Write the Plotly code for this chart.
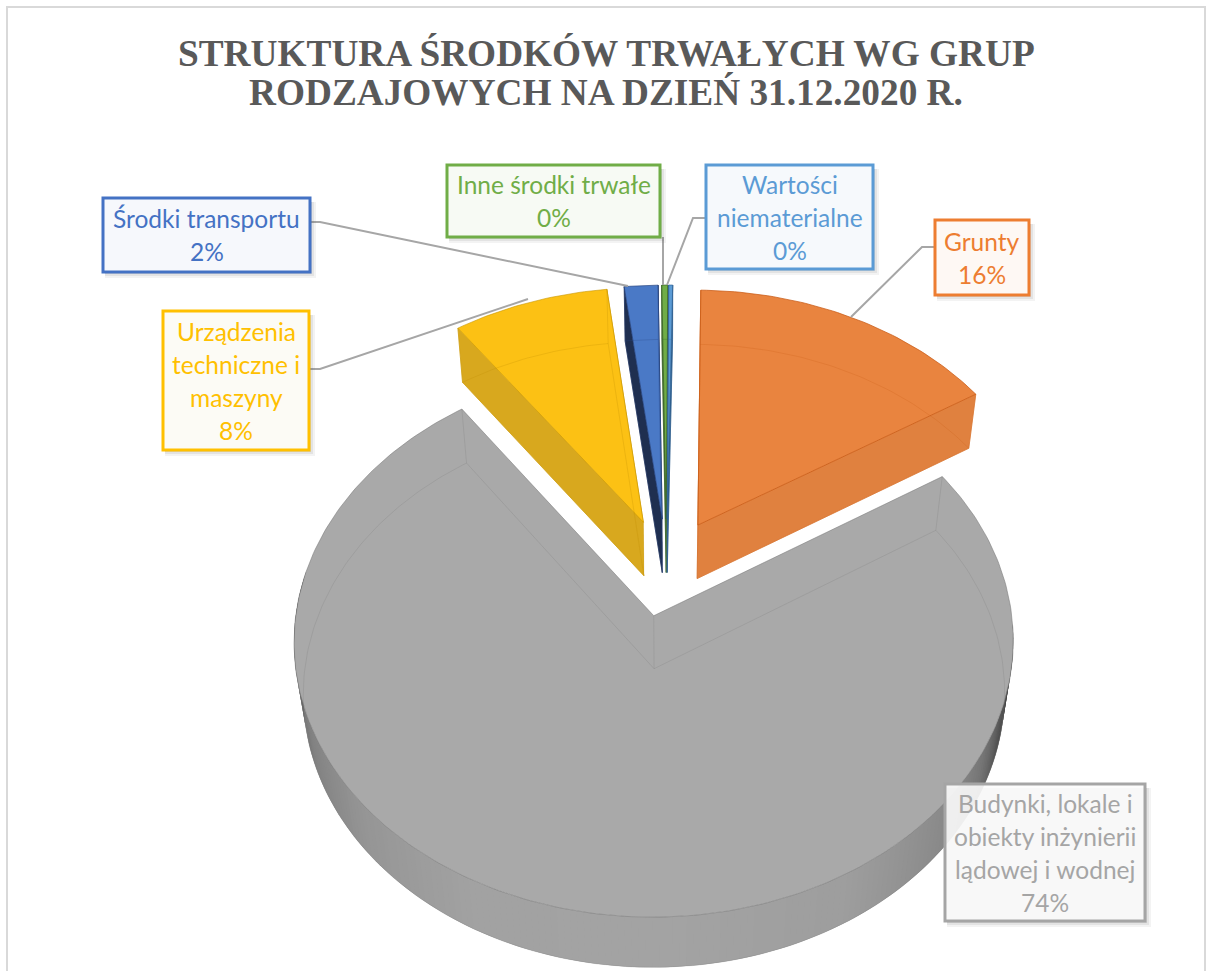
import numpy as np
import plotly.graph_objects as go

# ---- data ----
categories = ["Grunty", "Budynki, lokale i obiekty inżynierii lądowej i wodnej",
              "Urządzenia techniczne i maszyny", "Środki transportu",
              "Inne środki trwałe", "Wartości niematerialne"]
values = [15.7, 74.0, 7.9, 1.7, 0.3, 0.2]
title_lines = ["STRUKTURA ŚRODKÓW TRWAŁYCH WG GRUP", "RODZAJOWYCH NA DZIEŃ 31.12.2020 R."]
label_lines = [["Grunty"], ["Budynki, lokale i", "obiekty inżynierii", "lądowej i wodnej"],
               ["Urządzenia", "techniczne i", "maszyny"], ["Środki transportu"],
               ["Inne środki trwałe"], ["Wartości", "niematerialne"]]

# ---- style ----
top_colors = ["#E9843F", "#A9A9A9", "#FCC114", "#4A79C6", "#70AD47", "#5B9BD5"]
face_colors = ["#E0813F", "#A0A0A0", "#D8A81E", "#1F2F50", "#3E6A2A", "#2F5E8C"]
edge_colors = ["rgba(200,90,20,0.75)", "rgba(120,120,120,0.55)", "rgba(200,150,0,0.6)",
               "rgba(40,70,130,0.7)", "rgba(60,100,40,0.7)", "rgba(50,100,150,0.7)"]
ghost_colors = ["rgba(200,90,20,0.30)", "rgba(120,120,120,0.28)", "rgba(190,140,0,0.30)",
                "rgba(40,70,130,0.35)", "rgba(60,100,40,0.35)", "rgba(50,100,150,0.35)"]
text_colors = ["#ED7D31", "#A5A5A5", "#FFC000", "#4472C4", "#70AD47", "#5B9BD5"]
box_fills = ["#FEF8F4", "rgba(252,252,252,0.90)", "#FCFBF5", "#F6F8FC", "#F7FAF4", "#F6F9FC"]
boxes = [(935, 220, 1029, 295), (945, 784, 1145, 921), (163, 311, 309, 450),
         (103, 198, 310, 272), (447, 165, 660, 237), (706, 165, 873, 269)]
leaders = ["M 935 247 L 922 247 L 851 317", None,
           "M 309 369 L 320 369 L 528 299",
           "M 310 222 L 320 222 L 628 286",
           "M 663 237 L 663 285",
           "M 706 218 L 693 218 L 667 285"]

# ---- 3D pie projected to the page ----
CX, CY, S = 666.5, 567.0, 352.0
SE, CE = 0.75, 0.66
P, H, PULL = 0.14, 0.235, 0.185
START_ANGLE = 1.0
wall_angles = [95, 105, 118, 127, 150, 180, 208, 229, 248, 262, 272]
wall_grays = [50, 70, 118, 135, 158, 164, 162, 150, 130, 100, 70]

def proj(X, Y, Z):
    X, Y, Z = np.asarray(X, float), np.asarray(Y, float), np.asarray(Z, float)
    w = 1 + P * (Y * CE - Z * SE)
    return CX + S * X / w, CY - S * (Y * SE + Z * CE) / w

fig = go.Figure()

def poly(u, v, fill, line=None, lw=0.8):
    fig.add_trace(go.Scatter(x=list(u), y=list(v), mode="lines", fill="toself", fillcolor=fill,
                             line=dict(color=line or fill, width=lw), hoverinfo="skip"))

def path(u, v, color, lw=1.0):
    fig.add_trace(go.Scatter(x=list(u), y=list(v), mode="lines",
                             line=dict(color=color, width=lw), hoverinfo="skip"))

total = sum(values)
spans = START_ANGLE + np.cumsum([0] + values) / total * 360.0
slices = []
for i in range(len(values)):
    a0, a1 = spans[i], spans[i + 1]
    mid = np.radians((a0 + a1) / 2)
    ox, oy = PULL * np.sin(mid), PULL * np.cos(mid)
    th = np.radians(np.linspace(a0, a1, max(int((a1 - a0) / 1.0), 2) + 1))
    slices.append(dict(i=i, a0=a0, a1=a1, ox=ox, oy=oy, th=th,
                       ax=ox + np.sin(th), ay=oy + np.cos(th)))

# the big front slice first, then the rest from far to near
order = [1] + sorted([0, 2, 3, 4, 5], key=lambda k: -slices[k]["oy"])

for k in order:
    s = slices[k]
    ax, ay, ox, oy, th = s["ax"], s["ay"], s["ox"], s["oy"], s["th"]
    # outer wall, front facing part only; each strip overlaps the next to hide seams
    for j in range(len(th) - 1):
        deg = np.degrees((th[j] + th[j + 1]) / 2)
        if 92 < deg < 278:
            g = int(np.interp(deg, wall_angles, wall_grays))
            n = min(j + 2, len(th) - 1)
            u, v = proj([ax[j], ax[n], ax[n], ax[j]], [ay[j], ay[n], ay[n], ay[j]],
                        [0, 0, -H, -H])
            fig.add_trace(go.Scatter(x=list(u), y=list(v), mode="lines", fill="toself",
                                     fillcolor=f"rgb({g},{g},{g})", line=dict(width=0), hoverinfo="skip"))
    # radial cut faces
    if k != 1:
        for e in (0, -1):
            u, v = proj([ox, ax[e], ax[e], ox], [oy, ay[e], ay[e], oy], [0, 0, -H, -H])
            poly(u, v, face_colors[k])
    # top face
    u, v = proj(np.r_[ox, ax, ox], np.r_[oy, ay, oy], np.zeros(len(ax) + 2))
    poly(u, v, top_colors[k], edge_colors[k], 1.0)
    # edges seen through the translucent body
    u, v = proj(np.r_[ox, ax, ox], np.r_[oy, ay, oy], np.full(len(ax) + 2, -H))
    path(u, v, ghost_colors[k], 0.8)
    for e in (0, -1):
        u, v = proj([ax[e], ax[e]], [ay[e], ay[e]], [0, -H])
        path(u, v, ghost_colors[k], 0.8)
    u, v = proj([ox, ox], [oy, oy], [0, -H])
    path(u, v, ghost_colors[k], 0.8)

shapes = [dict(type="rect", x0=7, y0=7, x1=1205, y1=990, xref="x", yref="y",
               line=dict(color="#D9D9D9", width=2), layer="below")]
annotations = []
for tl, yy in zip(title_lines, [53, 92]):
    annotations.append(dict(text=f"<b>{tl}</b>", x=606, y=yy, xref="x", yref="y", showarrow=False,
                            xanchor="center", yanchor="middle",
                            font=dict(family="Liberation Serif", size=37.3, color="#595959")))
for i, cat in enumerate(categories):
    x0, y0, x1, y1 = boxes[i]
    if leaders[i]:
        shapes.append(dict(type="path", path=leaders[i], xref="x", yref="y",
                           line=dict(color="#A6A6A6", width=2)))
    for off, alpha in ((6, 0.07), (4, 0.10), (2, 0.12)):
        shapes.append(dict(type="rect", x0=x0 + 2, y0=y0 + 4, x1=x1 + off, y1=y1 + off, xref="x", yref="y",
                           fillcolor=f"rgba(90,90,90,{alpha})", line=dict(width=0)))
    shapes.append(dict(type="rect", x0=x0, y0=y0, x1=x1, y1=y1, xref="x", yref="y",
                       fillcolor=box_fills[i], line=dict(color=text_colors[i], width=3)))
    lines = label_lines[i] + [f"{round(values[i] / total * 100)}%"]
    n = len(lines)
    cy = (y0 + y1) / 2
    for j, t in enumerate(lines):
        annotations.append(dict(text=t, x=(x0 + x1) / 2, y=cy + (j - (n - 1) / 2) * 33, xref="x", yref="y",
                                showarrow=False, xanchor="center", yanchor="middle",
                                font=dict(family="Lato", size=24.5, color=text_colors[i])))

fig.update_layout(width=1210, height=971, margin=dict(l=0, r=0, t=0, b=0), autosize=False,
                  paper_bgcolor="white", plot_bgcolor="white", showlegend=False,
                  xaxis=dict(range=[0, 1210], visible=False, fixedrange=True),
                  yaxis=dict(range=[971, 0], visible=False, fixedrange=True),
                  shapes=shapes, annotations=annotations)
fig.write_html("out.html", config=dict(displayModeBar=False),
               post_script="document.body.style.margin='0';document.body.style.overflow='hidden';")
